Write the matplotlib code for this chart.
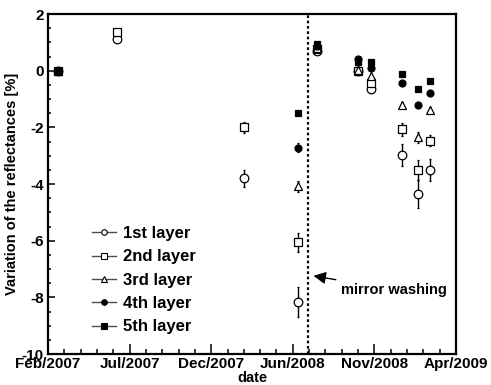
import numpy as np
import matplotlib
matplotlib.use("Agg")
import matplotlib.pyplot as plt
import matplotlib.dates as mdates
from matplotlib.lines import Line2D
from datetime import datetime, timedelta

plt.rcParams['font.family'] = ['Liberation Sans', 'DejaVu Sans']
plt.rcParams['font.weight'] = 'bold'
plt.rcParams['axes.unicode_minus'] = False

# measurement dates
dates = ["2007-03-06", "2007-06-29", "2008-03-01", "2008-06-14", "2008-07-19",
         "2008-10-08", "2008-11-02", "2009-01-01", "2009-02-01", "2009-02-24"]
washing_date = "2008-07-03"

nan = np.nan
layer_names = ["1st layer", "2nd layer", "3rd layer", "4th layer", "5th layer"]
layer1 = [0.0, 1.12, -3.80, -8.18, 0.68, 0.00, -0.66, -2.98, -4.36, -3.50]
layer2 = [0.0, 1.35, -2.00, -6.06, 0.75, 0.00, -0.42, -2.07, -3.50, -2.47]
layer3 = [0.0, nan, nan, -4.08, 0.80, 0.02, -0.20, -1.22, -2.35, -1.39]
layer4 = [0.0, nan, nan, -2.72, 0.87, 0.42, 0.08, -0.45, -1.21, -0.80]
layer5 = [0.0, nan, nan, -1.48, 0.95, 0.32, 0.32, -0.12, -0.66, -0.35]

err1 = [0.0, 0.0, 0.30, 0.53, 0.05, 0.05, 0.10, 0.40, 0.50, 0.39]
err2 = [0.0, 0.0, 0.20, 0.34, 0.05, 0.05, 0.10, 0.24, 0.35, 0.20]
err3 = [0.0, 0.0, 0.0, 0.20, 0.05, 0.05, 0.10, 0.10, 0.20, 0.10]
err4 = [0.0, 0.0, 0.0, 0.15, 0.05, 0.05, 0.05, 0.05, 0.10, 0.10]
err5 = [0.0, 0.0, 0.0, 0.05, 0.05, 0.05, 0.05, 0.05, 0.05, 0.05]

# (marker, facecolor, size)
styles = [("o", "white", 6.2), ("s", "white", 5.5), ("^", "white", 5.5),
          ("o", "black", 5.0), ("s", "black", 5.0)]

x = mdates.date2num([datetime.strptime(d, "%Y-%m-%d") for d in dates])
x_wash = mdates.date2num(datetime.strptime(washing_date, "%Y-%m-%d"))

# time axis: 5 equal divisions starting mid Feb 2007
t0 = datetime(2007, 2, 15)
step = 158
major = [t0 + timedelta(days=step * k) for k in range(6)]
major_num = mdates.date2num(major)
minor_num = np.arange(major_num[0], major_num[-1] + 1, step / 5)

fig = plt.figure(figsize=(4.91, 3.85), dpi=100)
ax = fig.add_axes([48 / 491, 31 / 385, 408 / 491, 340 / 385])

values = [layer1, layer2, layer3, layer4, layer5]
errors = [err1, err2, err3, err4, err5]
for vals, errs, (m, fc, ms) in zip(values, errors, styles):
    ax.errorbar(x, vals, yerr=errs, fmt=m, mfc=fc, mec="black", ms=ms, mew=0.9,
                ecolor="black", elinewidth=1.0, capsize=1, capthick=1, zorder=3)

ax.axvline(x_wash, color="black", ls=(0, (1.2, 1.2)), lw=1.6, zorder=2)

ax.annotate("mirror washing",
            xy=(mdates.date2num(datetime(2008, 7, 13)), -7.24),
            xytext=(mdates.date2num(datetime(2008, 9, 5)), -7.74),
            fontsize=10.5, fontweight="bold", ha="left", va="center",
            arrowprops=dict(arrowstyle="-|>,head_length=0.7,head_width=0.35",
                            color="black", lw=1.0, shrinkA=2, shrinkB=0))

ax.set_xlim(major_num[0], major_num[-1])
ax.set_ylim(-10, 2)
ax.set_xticks(major_num)
ax.set_xticklabels([d.strftime("%b/%Y") for d in major])
ax.set_xticks(minor_num, minor=True)
ax.set_yticks(np.arange(-10, 2.1, 2))
ax.set_yticklabels(["-10", "-8", "-6", "-4", "-2", "0", "2"])
ax.set_yticks(np.arange(-10, 2.1, 0.5), minor=True)

ax.tick_params(axis="x", which="major", direction="in", length=7, width=1.1,
               labelsize=11, pad=2)
ax.tick_params(axis="x", which="minor", direction="in", length=3.5, width=1.1)
ax.tick_params(axis="y", which="major", direction="in", length=5, width=1.1,
               labelsize=11, pad=3)
ax.tick_params(axis="y", which="minor", direction="in", length=2.5, width=1.1)
for s in ax.spines.values():
    s.set_linewidth(1.6)

ax.set_xlabel("date", fontsize=10.5, fontweight="bold", labelpad=0)
ax.set_ylabel("Variation of the reflectances [%]", fontsize=10.5,
              fontweight="bold")
ax.yaxis.set_label_coords(-0.071, 0.5)

handles = [Line2D([0], [0], color="0.3", lw=1.0, marker=m, mfc=fc, mec="black",
                  ms=4, mew=0.8) for (m, fc, ms) in styles]
leg = ax.legend(handles, layer_names, loc="upper left",
                bbox_to_anchor=(0.108, 0.376), frameon=False,
                prop=dict(size=12, weight="bold"), handlelength=1.45,
                handletextpad=0.4, labelspacing=0.5, borderpad=0,
                borderaxespad=0)

fig.savefig("out.png", dpi=100)
